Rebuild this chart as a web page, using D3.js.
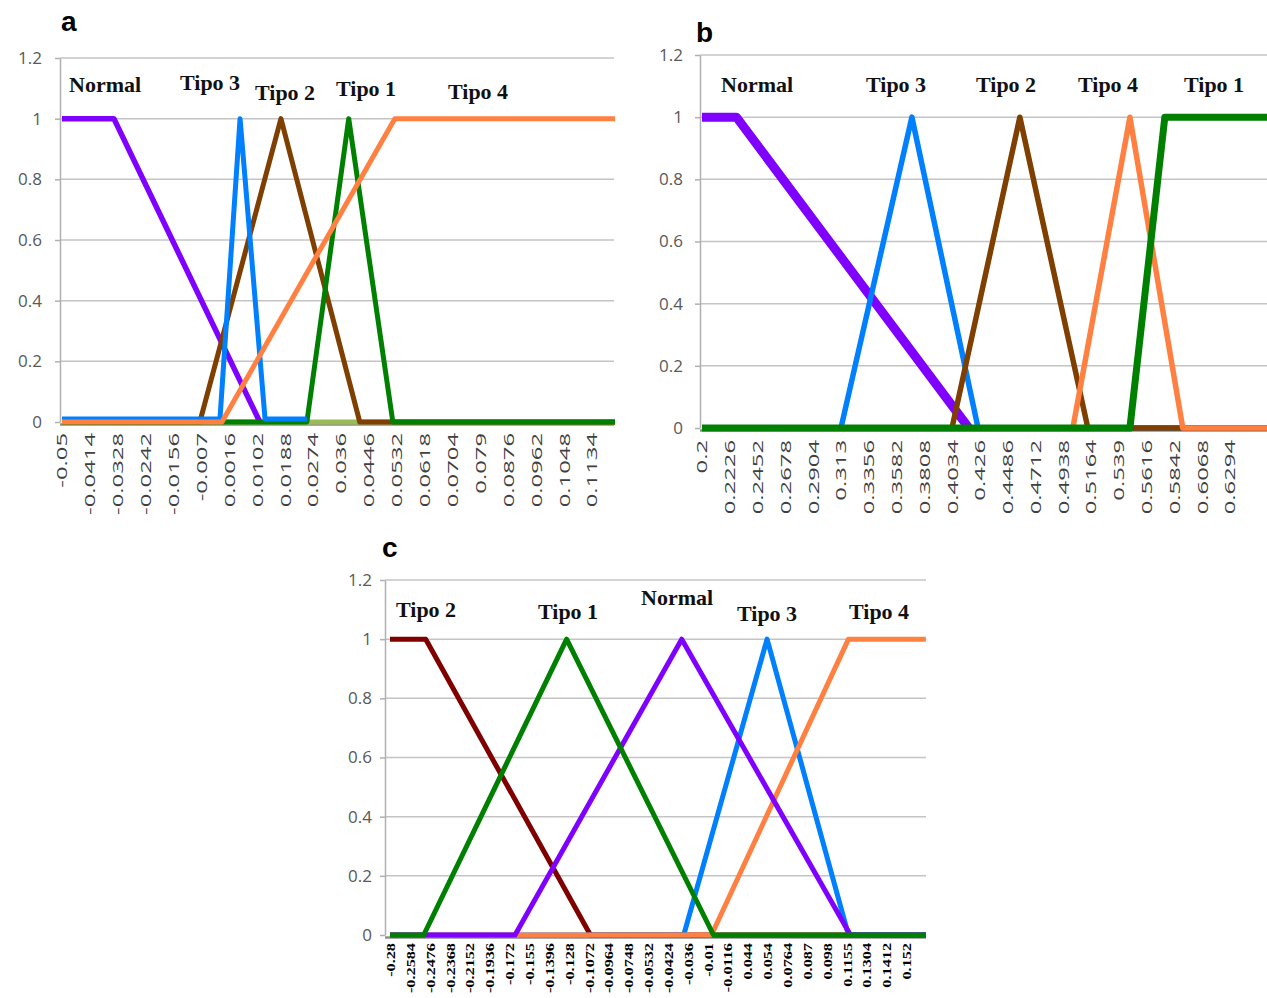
<!DOCTYPE html>
<html>
<head>
<meta charset="utf-8">
<script src="https://cdn.jsdelivr.net/npm/d3@7"></script>
<style>
  body { margin: 0; background: #fff; }
  svg { display: block; }
</style>
</head>
<body>
<div id="chart"></div>
<script>
// shared y ticks
const yTicks = [0, 0.2, 0.4, 0.6, 0.8, 1, 1.2];
const yTickLabels = ["0", "0.2", "0.4", "0.6", "0.8", "1", "1.2"];

// ---- panel a ----
const xTicksA = [-0.05, -0.0414, -0.0328, -0.0242, -0.0156, -0.007, 0.0016, 0.0102, 0.0188, 0.0274,
  0.036, 0.0446, 0.0532, 0.0618, 0.0704, 0.079, 0.0876, 0.0962, 0.1048, 0.1134];
const otherA  = [[-0.05, 0], [0.1205, 0]];
const normalA = [[-0.05, 1], [-0.034, 1], [0.011, 0]];
const tipo2A  = [[-0.05, 0], [-0.0075, 0], [0.0175, 1], [0.0418, 0], [0.1205, 0]];
const tipo1A  = [[-0.05, 0], [0.0255, 0], [0.0384, 1], [0.052, 0], [0.1205, 0]];
const tipo3A  = [[-0.05, 0.01], [-0.0013, 0.01], [0.0049, 1], [0.0126, 0.01], [0.0255, 0.01]];
const tipo4A  = [[-0.05, 0], [-0.0007, 0], [0.0526, 1], [0.1205, 1]];
const namesA  = ["Normal", "Tipo 3", "Tipo 2", "Tipo 1", "Tipo 4"];

// ---- panel b ----
const xTicksB = [0.2, 0.2226, 0.2452, 0.2678, 0.2904, 0.313, 0.3356, 0.3582, 0.3808, 0.4034,
  0.426, 0.4486, 0.4712, 0.4938, 0.5164, 0.539, 0.5616, 0.5842, 0.6068, 0.6294];
const normalB = [[0.2, 1], [0.228, 1], [0.417, 0]];
const tipo3B  = [[0.2, 0], [0.313, 0], [0.3707, 1], [0.4245, 0], [0.66, 0]];
const tipo2B  = [[0.2, 0], [0.4033, 0], [0.4585, 1], [0.5138, 0], [0.66, 0]];
const tipo4B  = [[0.2, 0], [0.5016, 0], [0.548, 1], [0.591, 0], [0.66, 0]];
const tipo1B  = [[0.2, 0], [0.548, 0], [0.5764, 1], [0.66, 1]];
const namesB  = ["Normal", "Tipo 3", "Tipo 2", "Tipo 4", "Tipo 1"];

// ---- panel c (category axis, x = category index) ----
const xLabelsC = ["-0.28", "-0.2584", "-0.2476", "-0.2368", "-0.2152", "-0.1936", "-0.172", "-0.155",
  "-0.1396", "-0.128", "-0.1072", "-0.0964", "-0.0748", "-0.0532", "-0.0424", "-0.036", "-0.01",
  "-0.0116", "0.044", "0.054", "0.0764", "0.087", "0.098", "0.1155", "0.1304", "0.1412", "0.152"];
const tipo2C  = [[0, 1], [1.8, 1], [10.1, 0], [27, 0]];
const tipo3C  = [[0, 0], [14.8, 0], [19, 1], [23.1, 0], [27, 0]];
const tipo4C  = [[0, 0], [16.2, 0], [23.1, 1], [27, 1]];
const normalC = [[0, 0], [6.3, 0], [14.7, 1], [23.2, 0], [27, 0]];
const tipo1C  = [[0, 0], [1.7, 0], [8.9, 1], [16.3, 0], [27, 0]];
const namesC  = ["Tipo 2", "Tipo 1", "Normal", "Tipo 3", "Tipo 4"];

const colors = {
  normal: "#7f00ff", tipo1: "#008000", tipo2: "#7f3f00", tipo3: "#0080ff",
  tipo4: "#ff8040", tipo2c: "#800000", other: "#9bbb59"
};

const panels = [
  {
    letter: "a", letterPos: [61, 31],
    xDomain: [-0.05, 0.1134], xRange: [62, 592], yRange: [422, 58],
    plotLeft: 60, plotRight: 614, labelTop: 433, yPad: 13,
    xTicks: xTicksA, xFormat: d => String(d), xFont: "x-sans",
    series: [
      {data: otherA, color: colors.other, w: 5},
      {data: normalA, color: colors.normal, w: 5.5},
      {data: tipo2A, color: colors.tipo2, w: 5},
      {data: tipo1A, color: colors.tipo1, w: 5},
      {data: tipo3A, color: colors.tipo3, w: 5},
      {data: tipo4A, color: colors.tipo4, w: 5}
    ],
    names: namesA, namePos: [[69, 92], [180, 90], [255, 100], [336, 96], [448, 99]]
  },
  {
    letter: "b", letterPos: [696, 42],
    xDomain: [0.2, 0.6294], xRange: [702, 1230], yRange: [428, 55],
    plotLeft: 700, plotRight: 1267, labelTop: 440, yPad: 12,
    xTicks: xTicksB, xFormat: d => String(d), xFont: "x-sans",
    series: [
      {data: normalB, color: colors.normal, w: 9},
      {data: tipo3B, color: colors.tipo3, w: 5.5},
      {data: tipo2B, color: colors.tipo2, w: 5.5},
      {data: tipo4B, color: colors.tipo4, w: 5.5},
      {data: tipo1B, color: colors.tipo1, w: 7}
    ],
    names: namesB, namePos: [[721, 92], [866, 92], [976, 92], [1078, 92], [1184, 92]]
  },
  {
    letter: "c", letterPos: [382, 557],
    xDomain: [0, 26], xRange: [390, 906], yRange: [935, 580],
    plotLeft: 385, plotRight: 926, labelTop: 943, yPad: 8,
    xTicks: d3.range(xLabelsC.length), xFormat: i => xLabelsC[i], xFont: "x-serif",
    series: [
      {data: tipo2C, color: colors.tipo2c, w: 5},
      {data: tipo3C, color: colors.tipo3, w: 5},
      {data: tipo4C, color: colors.tipo4, w: 5},
      {data: normalC, color: colors.normal, w: 5},
      {data: tipo1C, color: colors.tipo1, w: 5}
    ],
    names: namesC, namePos: [[396, 617], [538, 619], [641, 605], [737, 621], [849, 619]]
  }
];

const svg = d3.select("#chart").append("svg")
  .attr("width", 1267).attr("height", 998)
  .attr("viewBox", "0 0 1267 998");

panels.forEach(p => drawPanel(p));

function drawPanel(p) {
  const x = d3.scaleLinear().domain(p.xDomain).range(p.xRange);
  const y = d3.scaleLinear().domain([0, 1.2]).range(p.yRange);
  const g = svg.append("g");

  // gridlines
  g.append("g").selectAll("line")
    .data(yTicks.filter(d => d > 0))
    .join("line")
    .attr("x1", p.plotLeft).attr("x2", p.plotRight)
    .attr("y1", d => y(d)).attr("y2", d => y(d))
    .attr("stroke", "#c4c4c4").attr("stroke-width", 1.5);

  // y axis
  const yAxis = d3.axisLeft(y)
    .tickValues(yTicks)
    .tickFormat((d, i) => yTickLabels[i])
    .tickSize(5).tickSizeOuter(0).tickPadding(p.yPad);
  const ya = g.append("g")
    .attr("transform", `translate(${p.plotLeft},0)`)
    .call(yAxis);
  ya.select(".domain").attr("stroke", "#b0b0b0").attr("stroke-width", 1.5);
  ya.selectAll(".tick line").attr("stroke", "#b0b0b0").attr("stroke-width", 1.5);
  ya.selectAll(".tick text")
    .attr("fill", "#595959")
    .style("font-family", "'Open Sans', sans-serif")
    .style("font-size", "17px");

  // x axis line
  g.append("line")
    .attr("x1", p.plotLeft).attr("x2", p.plotRight)
    .attr("y1", y(0) + 2.5).attr("y2", y(0) + 2.5)
    .attr("stroke", "#8e8e8e").attr("stroke-width", 2.5);

  // x axis labels, rotated and stretched like the original
  const xAxis = d3.axisBottom(x)
    .tickValues(p.xTicks)
    .tickFormat(p.xFormat)
    .tickSize(0).tickSizeOuter(0);
  const xa = g.append("g")
    .attr("transform", `translate(0,${y(0)})`)
    .call(xAxis);
  xa.select(".domain").remove();
  const off = p.labelTop - y(0);
  const txt = xa.selectAll(".tick text")
    .attr("y", null).attr("x", 0).attr("dy", "0.35em")
    .attr("text-anchor", "end");
  if (p.xFont === "x-serif") {
    txt.attr("transform", `translate(0,${off}) rotate(-90) scale(1.25,1)`)
      .attr("fill", "#000")
      .style("font-family", "'Liberation Serif', 'Times New Roman', serif")
      .style("font-weight", "bold")
      .style("font-size", "13px");
  } else {
    txt.attr("transform", `translate(0,${off}) rotate(-90) scale(1.7,1)`)
      .attr("fill", "#404040")
      .style("font-family", "'Open Sans', sans-serif")
      .style("font-size", "14px");
  }

  // series lines
  const line = d3.line()
    .x(d => x(d[0]))
    .y(d => y(d[1]));
  g.append("g").selectAll("path")
    .data(p.series)
    .join("path")
    .attr("d", s => line(s.data))
    .attr("fill", "none")
    .attr("stroke", s => s.color)
    .attr("stroke-width", s => s.w)
    .attr("stroke-linejoin", "round")
    .attr("stroke-linecap", "butt");

  // series names
  g.append("g").selectAll("text")
    .data(p.names)
    .join("text")
    .attr("x", (d, i) => p.namePos[i][0])
    .attr("y", (d, i) => p.namePos[i][1])
    .text(d => d)
    .attr("fill", "#111")
    .style("font-family", "'Liberation Serif', 'Times New Roman', serif")
    .style("font-weight", "bold")
    .style("font-size", "22px");

  // panel letter
  g.append("text")
    .attr("x", p.letterPos[0]).attr("y", p.letterPos[1])
    .text(p.letter)
    .attr("fill", "#000")
    .style("font-family", "'Liberation Sans', Arial, sans-serif")
    .style("font-weight", "bold")
    .style("font-size", "28px");
}
</script>
</body>
</html>
